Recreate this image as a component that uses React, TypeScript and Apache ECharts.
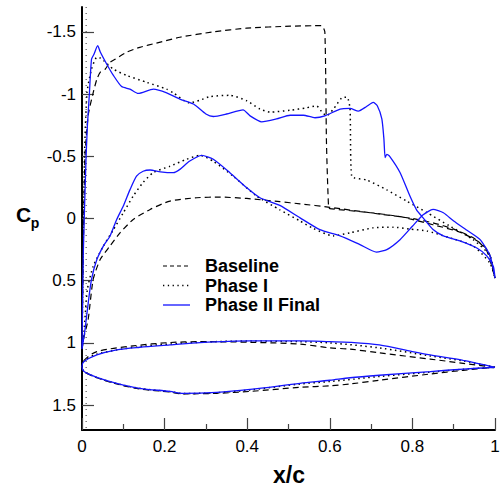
import React, { useEffect, useRef } from 'react';
import * as echarts from 'echarts';

// ---------- ticks / labels ----------
const yTickValues = [-1.5, -1, -0.5, 0, 0.5, 1, 1.5];
const legendNames = ['Baseline', 'Phase I', 'Phase II Final'];

// ---------- Baseline Cp ----------
const baselineUpperX = [0.0, 0.003, 0.007, 0.015, 0.027, 0.036, 0.044, 0.056, 0.068, 0.08, 0.108, 0.14, 0.18, 0.237, 0.318, 0.399, 0.504, 0.58, 0.588, 0.592, 0.597, 0.6, 0.689, 0.77, 0.85, 0.915, 0.964, 0.985, 1.0];
const baselineUpperCp = [1.05, 0.3, -0.48, -0.83, -1.01, -1.12, -1.175, -1.2, -1.256, -1.28, -1.336, -1.376, -1.41, -1.457, -1.5, -1.53, -1.546, -1.55, -1.5, -0.6, -0.09, -0.08, -0.05, -0.015, 0.05, 0.11, 0.195, 0.27, 0.48];
const baselineLowerX = [0.0, 0.005, 0.015, 0.027, 0.044, 0.068, 0.092, 0.124, 0.165, 0.213, 0.278, 0.334, 0.399, 0.479, 0.528, 0.6, 0.7, 0.8, 0.85, 0.9, 0.95, 0.98, 1.0];
const baselineLowerCp = [1.05, 0.95, 0.81, 0.49, 0.33, 0.22, 0.115, 0.008, -0.073, -0.14, -0.167, -0.172, -0.161, -0.135, -0.118, -0.09, -0.045, 0.0, 0.035, 0.085, 0.16, 0.26, 0.48];

// ---------- Phase I Cp ----------
const phase1UpperX = [0.0, 0.003, 0.006, 0.012, 0.023, 0.036, 0.044, 0.052, 0.076, 0.108, 0.157, 0.205, 0.221, 0.26, 0.285, 0.31, 0.358, 0.399, 0.431, 0.455, 0.504, 0.544, 0.568, 0.58, 0.592, 0.609, 0.629, 0.642, 0.649, 0.653, 0.689, 0.738, 0.786, 0.834, 0.89, 0.947, 0.988, 1.0];
const phase1UpperCp = [1.05, 0.2, -0.5, -1.01, -1.2, -1.296, -1.29, -1.27, -1.2, -1.15, -1.094, -1.04, -1.01, -0.93, -0.95, -0.98, -0.99, -0.946, -0.88, -0.855, -0.87, -0.89, -0.905, -0.86, -0.825, -0.88, -0.97, -0.975, -0.88, -0.34, -0.31, -0.23, -0.14, -0.05, 0.06, 0.17, 0.3, 0.48];
const phase1LowerX = [0.0, 0.005, 0.013, 0.027, 0.052, 0.076, 0.1, 0.124, 0.148, 0.173, 0.213, 0.253, 0.286, 0.318, 0.366, 0.423, 0.479, 0.528, 0.56, 0.608, 0.649, 0.705, 0.754, 0.794, 0.835, 0.89, 0.947, 0.988, 1.0];
const phase1LowerCp = [1.05, 0.9, 0.57, 0.385, 0.22, 0.09, -0.046, -0.18, -0.29, -0.37, -0.42, -0.476, -0.508, -0.46, -0.34, -0.18, -0.07, 0.02, 0.08, 0.14, 0.115, 0.075, 0.07, 0.085, 0.1, 0.155, 0.22, 0.36, 0.48];
const phase1MarkX = [0.01, 0.01];
const phase1MarkCp = [-1.7, 1.7];

// ---------- Phase II Final Cp ----------
const phase2UpperX = [0.0, 0.003, 0.0097, 0.013, 0.018, 0.023, 0.029, 0.038, 0.044, 0.06, 0.076, 0.096, 0.116, 0.136, 0.173, 0.205, 0.237, 0.27, 0.3, 0.318, 0.35, 0.39, 0.407, 0.435, 0.471, 0.504, 0.536, 0.564, 0.588, 0.625, 0.649, 0.669, 0.689, 0.705, 0.715, 0.726, 0.731, 0.734, 0.738, 0.745, 0.77, 0.794, 0.81, 0.826, 0.85, 0.875, 0.915, 0.956, 0.98, 0.996, 1.0];
const phase2UpperCp = [1.05, 0.3, -0.476, -0.74, -1.01, -1.28, -1.32, -1.39, -1.34, -1.24, -1.15, -1.06, -1.04, -1.005, -1.04, -1.01, -0.96, -0.92, -0.84, -0.82, -0.84, -0.873, -0.825, -0.777, -0.8, -0.83, -0.83, -0.81, -0.825, -0.88, -0.885, -0.863, -0.9, -0.933, -0.906, -0.8, -0.64, -0.49, -0.516, -0.5, -0.37, -0.18, -0.07, -0.005, 0.089, 0.14, 0.18, 0.237, 0.3, 0.385, 0.48];
const phase2LowerX = [0.0, 0.007, 0.015, 0.023, 0.036, 0.052, 0.068, 0.084, 0.1, 0.116, 0.132, 0.148, 0.165, 0.19, 0.221, 0.237, 0.26, 0.29, 0.318, 0.358, 0.399, 0.431, 0.479, 0.528, 0.576, 0.625, 0.673, 0.713, 0.738, 0.77, 0.8, 0.826, 0.85, 0.875, 0.9, 0.93, 0.964, 0.988, 1.0];
const phase2LowerCp = [1.05, 0.9, 0.68, 0.49, 0.33, 0.22, 0.14, 0.008, -0.1, -0.23, -0.34, -0.38, -0.39, -0.375, -0.368, -0.395, -0.46, -0.508, -0.476, -0.368, -0.247, -0.167, -0.105, -0.005, 0.09, 0.14, 0.21, 0.27, 0.25, 0.17, 0.062, -0.03, -0.073, -0.046, 0.02, 0.09, 0.17, 0.3, 0.48];

// ---------- Airfoil geometries (plotted on Cp scale) ----------
const baselineShapeUpperX = [0.0, 0.005, 0.036, 0.124, 0.213, 0.286, 0.407, 0.528, 0.6, 0.649, 0.72, 0.843, 0.923, 1.0];
const baselineShapeUpperY = [1.19, 1.14, 1.07, 1.024, 0.997, 0.99, 0.995, 1.01, 1.04, 1.05, 1.08, 1.13, 1.164, 1.196];
const baselineShapeLowerX = [0.0, 0.005, 0.036, 0.084, 0.14, 0.213, 0.245, 0.326, 0.407, 0.528, 0.6, 0.649, 0.72, 0.843, 0.923, 1.0];
const baselineShapeLowerY = [1.19, 1.23, 1.28, 1.33, 1.37, 1.395, 1.41, 1.405, 1.39, 1.357, 1.345, 1.33, 1.3, 1.25, 1.22, 1.196];

const phase1ShapeUpperX = [0.0, 0.005, 0.036, 0.14, 0.286, 0.407, 0.528, 0.6, 0.72, 0.843, 0.923, 1.0];
const phase1ShapeUpperY = [1.19, 1.145, 1.09, 1.03, 0.995, 0.985, 0.99, 1.0, 1.04, 1.105, 1.145, 1.196];
const phase1ShapeLowerX = [0.0, 0.005, 0.036, 0.084, 0.14, 0.213, 0.245, 0.326, 0.407, 0.528, 0.6, 0.72, 0.843, 0.923, 1.0];
const phase1ShapeLowerY = [1.19, 1.23, 1.278, 1.327, 1.366, 1.392, 1.407, 1.4, 1.378, 1.33, 1.31, 1.27, 1.235, 1.212, 1.196];

const phase2ShapeUpperX = [0.0, 0.005, 0.036, 0.084, 0.14, 0.213, 0.286, 0.407, 0.528, 0.6, 0.649, 0.72, 0.8, 0.843, 0.923, 1.0];
const phase2ShapeUpperY = [1.19, 1.15, 1.097, 1.056, 1.035, 1.016, 0.997, 0.984, 0.984, 0.99, 0.995, 1.016, 1.07, 1.097, 1.14, 1.196];
const phase2ShapeLowerX = [0.0, 0.005, 0.036, 0.084, 0.14, 0.213, 0.245, 0.326, 0.407, 0.528, 0.6, 0.649, 0.72, 0.843, 0.923, 1.0];
const phase2ShapeLowerY = [1.19, 1.23, 1.277, 1.325, 1.365, 1.39, 1.406, 1.398, 1.374, 1.325, 1.3, 1.28, 1.26, 1.23, 1.21, 1.196];

const zip = (xs: number[], ys: number[]) => xs.map((x, i) => [x, ys[i]]);
const loop = (ux: number[], uy: number[], lx: number[], ly: number[]) => [
  ...zip(ux, uy).reverse(),
  ...zip(lx, ly).slice(1),
];

const FONT = 'Liberation Sans, Arial, Helvetica, sans-serif';
const BLUE = '#1414ff';
const DASH = [6, 4];
const DOT = [1.5, 3.5];
const dashedStyle = { color: '#000', width: 1.2, type: DASH };
const dottedStyle = { color: '#000', width: 1.5, type: DOT };
const faintDottedStyle = { color: '#333', width: 1, type: [1, 5] };
const solidStyle = { color: BLUE, width: 1.3, type: 'solid' as const };
const legendStyles = [
  { stroke: '#000', lineWidth: 1.2, lineDash: [4, 3] },
  { stroke: '#000', lineWidth: 1.3, lineDash: [1.3, 3.5] },
  { stroke: BLUE, lineWidth: 1.3 },
];

function mkSeries(name: string, data: number[][], lineStyle: any, z: number, smooth = 0.2) {
  return {
    name,
    type: 'line',
    data,
    symbol: 'none',
    showSymbol: false,
    smooth,
    lineStyle,
    itemStyle: { color: lineStyle.color },
    z,
    silent: true,
  };
}

export default function App() {
  const ref = useRef<HTMLDivElement>(null);
  useEffect(() => {
    if (!ref.current) return;
    const chart = echarts.init(ref.current, undefined, { renderer: 'svg' });
    const legendGraphics: any[] = [];
    legendNames.forEach((name, i) => {
      const y = 266 + i * 19.5;
      legendGraphics.push({
        type: 'line',
        shape: { x1: 163, y1: y, x2: 190, y2: y },
        style: legendStyles[i],
        silent: true,
      });
      legendGraphics.push({
        type: 'text',
        x: 205,
        y,
        style: { text: name, font: `bold 18px ${FONT}`, fill: '#000', align: 'left', verticalAlign: 'middle' },
        silent: true,
      });
    });
    const option: any = {
      animation: false,
      backgroundColor: '#fff',
      grid: { left: 82, right: 9, top: 7, bottom: 59, containLabel: false, outerBoundsMode: 'none' },
      xAxis: {
        type: 'value',
        min: 0,
        max: 1,
        interval: 0.2,
        axisLine: { show: true, onZero: false, lineStyle: { color: '#000', width: 2 } },
        axisTick: { show: true, inside: true, length: 12, lineStyle: { color: '#444', width: 1.2 } },
        minorTick: { show: true, splitNumber: 2, length: 6, lineStyle: { color: '#444', width: 1.2 } },
        axisLabel: { color: '#000', fontSize: 17, fontFamily: FONT, margin: 8 },
        splitLine: { show: false },
      },
      yAxis: {
        type: 'value',
        inverse: true,
        min: -1.7,
        max: 1.7,
        axisLine: { show: true, onZero: false, lineStyle: { color: '#000', width: 2 } },
        axisTick: { show: true, inside: true, length: 12, customValues: yTickValues, lineStyle: { color: '#444', width: 1.2 } },
        axisLabel: { color: '#000', fontSize: 17, fontFamily: FONT, margin: 6, customValues: yTickValues },
        splitLine: { show: false },
      },
      graphic: [
        { type: 'text', x: 23.5, y: 214.5, style: { text: 'C', font: `bold 21px ${FONT}`, fill: '#000', align: 'center', verticalAlign: 'middle' } },
        { type: 'text', x: 35, y: 223, style: { text: 'p', font: `bold 14px ${FONT}`, fill: '#000', align: 'center', verticalAlign: 'middle' } },
        { type: 'text', x: 289, y: 475, style: { text: 'x/c', font: `bold 23px ${FONT}`, fill: '#000', align: 'center', verticalAlign: 'middle' } },
        ...legendGraphics,
      ],
      series: [
        mkSeries('Baseline', loop(baselineUpperX, baselineUpperCp, baselineLowerX, baselineLowerCp), dashedStyle, 2),
        mkSeries('Baseline', loop(baselineShapeUpperX, baselineShapeUpperY, baselineShapeLowerX, baselineShapeLowerY), dashedStyle, 2, 0.3),
        mkSeries('Phase I', loop(phase1UpperX, phase1UpperCp, phase1LowerX, phase1LowerCp), dottedStyle, 3),
        mkSeries('Phase I', loop(phase1ShapeUpperX, phase1ShapeUpperY, phase1ShapeLowerX, phase1ShapeLowerY), dottedStyle, 3, 0.3),
        mkSeries('Phase I', zip(phase1MarkX, phase1MarkCp), faintDottedStyle, 3, 0),
        mkSeries('Phase II Final', loop(phase2UpperX, phase2UpperCp, phase2LowerX, phase2LowerCp), solidStyle, 4),
        mkSeries('Phase II Final', loop(phase2ShapeUpperX, phase2ShapeUpperY, phase2ShapeLowerX, phase2ShapeLowerY), solidStyle, 4, 0.3),
      ],
    };
    chart.setOption(option);
    return () => chart.dispose();
  }, []);
  return (
    <div
      ref={ref}
      style={{ position: 'fixed', left: 0, top: 0, width: 504, height: 489, background: '#fff' }}
    />
  );
}
